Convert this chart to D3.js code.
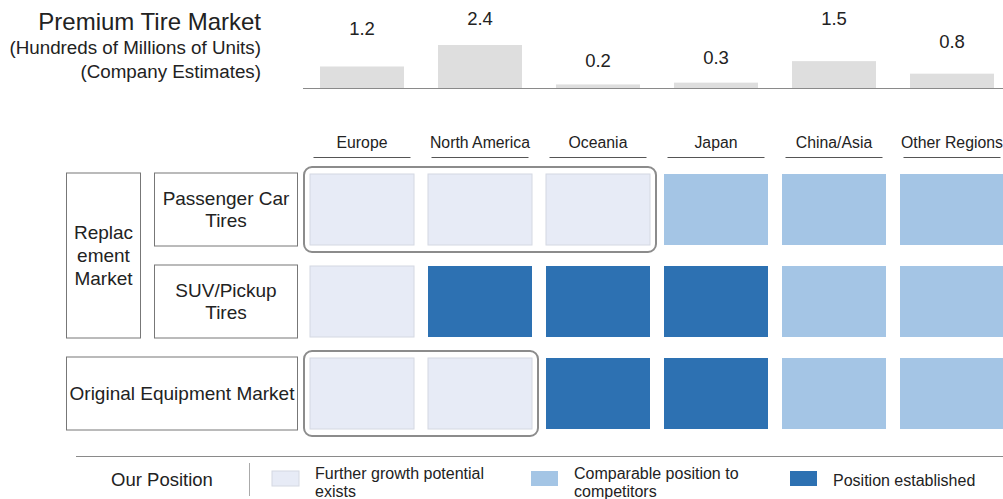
<!DOCTYPE html>
<html><head><meta charset="utf-8">
<script src="https://cdn.jsdelivr.net/npm/d3@7"></script>
<style>
html,body{margin:0;padding:0;background:#fff;}
svg{display:block;font-family:"Liberation Sans",Arial,Helvetica,sans-serif;}
</style></head>
<body>
<svg id="chart" width="1003" height="499"></svg>
<script>
// ---- data ----
const regions = ["Europe","North America","Oceania","Japan","China/Asia","Other Regions"];
const marketSize = [1.2, 2.4, 0.2, 0.3, 1.5, 0.8];
const rows = ["Passenger Car Tires","SUV/Pickup Tires","Original Equipment Market"];
const rowLabels = [["Passenger Car","Tires"],["SUV/Pickup","Tires"],["Original Equipment Market"]];
const groupLabel = ["Replac","ement","Market"];
// position level: 0 = further growth potential, 1 = comparable, 2 = established
const passengerLevels = [0,0,0,1,1,1];
const suvLevels       = [0,2,2,2,1,1];
const oeLevels        = [0,0,2,2,1,1];
const levelNames = ["Further growth potential exists","Comparable position to competitors","Position established"];
const legendLines = [["Further growth potential","exists"],["Comparable position to","competitors"],["Position established"]];
const highlights = [
  {row:"Passenger Car Tires", from:"Europe", to:"Oceania"},
  {row:"Original Equipment Market", from:"Europe", to:"North America"}
];
const titleLines = ["Premium Tire Market","(Hundreds of Millions of Units)","(Company Estimates)"];

// ---- drawing ----
const svg = d3.select("#chart");
const colors = ["#e7ebf6","#a4c5e5","#2d71b2"];
const txt = "#222";

const x = d3.scaleBand().domain(regions).range([303, 1011]).paddingInner(14/118).paddingOuter(7/118);
const y = d3.scaleBand().domain(rows).range([163.5, 439.5]).paddingInner(21/92).paddingOuter(10.5/92);
const bw = x.bandwidth(), bh = y.bandwidth();

// Title
const tSizes = [24, 18.8, 18.8];
const tY = [30, 54, 78];
svg.append("g").selectAll("text").data(titleLines).join("text")
  .attr("x", 261).attr("y", (d,i)=>tY[i]).attr("text-anchor","end")
  .attr("font-size",(d,i)=>tSizes[i]).attr("fill",txt).text(d=>d);

// Market size bars
const yb = d3.scaleLinear().domain([0, 2.4]).range([88, 45]);
const yl = d3.scaleLinear().domain([0.2, 1.5]).range([67, 25]).clamp(true);
const barW = 84;
svg.append("g").selectAll("rect").data(regions).join("rect")
  .attr("x", d=>x(d)+bw/2-barW/2).attr("width", barW)
  .attr("y", (d,i)=>yb(marketSize[i])).attr("height",(d,i)=>yb(0)-yb(marketSize[i]))
  .attr("fill","#dedede");
svg.append("g").selectAll("text").data(regions).join("text")
  .attr("x", d=>x(d)+bw/2).attr("y",(d,i)=>yl(marketSize[i]))
  .attr("text-anchor","middle").attr("font-size",18.5).attr("fill",txt)
  .text((d,i)=>d3.format(".1f")(marketSize[i]));
svg.append("line").attr("x1",303).attr("x2",1003).attr("y1",88.5).attr("y2",88.5)
  .attr("stroke","#8a8a8a").attr("stroke-width",1.2);

// Column headers
const hdr = svg.append("g");
hdr.selectAll("text").data(regions).join("text")
  .attr("x", d=>x(d)+bw/2).attr("y",147.5).attr("text-anchor","middle")
  .attr("font-size",15.8).attr("fill",txt).text(d=>d);
hdr.selectAll("line").data(regions).join("line")
  .attr("x1", d=>x(d)+bw/2-48.5).attr("x2", d=>x(d)+bw/2+48.5)
  .attr("y1",157.5).attr("y2",157.5).attr("stroke","#555").attr("stroke-width",1);

// Cells
const levels = [passengerLevels, suvLevels, oeLevels];
const cellData = [];
rows.forEach((r,ri)=>regions.forEach((c,ci)=>cellData.push({r, c, lv: levels[ri][ci]})));
svg.append("g").selectAll("rect").data(cellData).join("rect")
  .attr("x", d=>x(d.c)).attr("y", d=>y(d.r)).attr("width", bw).attr("height", bh)
  .attr("fill", d=>colors[d.lv])
  .attr("stroke", d=>d.lv===0 ? "#d4d8e2" : "none").attr("stroke-width",1);

// Highlight rounded boxes
svg.append("g").selectAll("rect").data(highlights).join("rect")
  .attr("x", d=>x(d.from)-6).attr("y", d=>y(d.row)-7)
  .attr("width", d=>x(d.to)+bw-x(d.from)+12).attr("height", bh+14)
  .attr("rx",8).attr("fill","none").attr("stroke","#8c8c8c").attr("stroke-width",2);

// Row label boxes
const lbl = svg.append("g");
const boxStroke = "#777";
const lf = 19;
lbl.append("rect").attr("x",66.5).attr("y", y(rows[0])-1).attr("width",74)
  .attr("height", y(rows[1])+bh - y(rows[0]) + 2).attr("fill","none").attr("stroke",boxStroke);
lbl.append("g").selectAll("text").data(groupLabel).join("text")
  .attr("x",103.5).attr("y",(d,i)=>(y(rows[0])+y(rows[1])+bh)/2 + (i-1)*23 + 6.5)
  .attr("text-anchor","middle").attr("font-size",lf).attr("fill",txt).text(d=>d);
[0,1].forEach(ri=>{
  lbl.append("rect").attr("x",154.5).attr("y",y(rows[ri])-1).attr("width",143).attr("height",bh+2)
    .attr("fill","none").attr("stroke",boxStroke);
  lbl.append("g").selectAll("text").data(rowLabels[ri]).join("text")
    .attr("x",226).attr("y",(d,i)=>y(rows[ri])+bh/2+(i-0.5)*22+6.5)
    .attr("text-anchor","middle").attr("font-size",lf).attr("fill",txt).text(d=>d);
});
lbl.append("rect").attr("x",66.5).attr("y",y(rows[2])-1).attr("width",231).attr("height",bh+2)
  .attr("fill","none").attr("stroke",boxStroke);
lbl.append("text").attr("x",182).attr("y",y(rows[2])+bh/2+6.5).attr("text-anchor","middle")
  .attr("font-size",lf).attr("fill",txt).text(rowLabels[2][0]);

// Legend
const lg = svg.append("g");
lg.append("line").attr("x1",76).attr("x2",1003).attr("y1",456.5).attr("y2",456.5)
  .attr("stroke","#8a8a8a").attr("stroke-width",1.2);
lg.append("text").attr("x",162).attr("y",486).attr("text-anchor","middle")
  .attr("font-size",18.5).attr("fill",txt).text("Our Position");
lg.append("line").attr("x1",249.5).attr("x2",249.5).attr("y1",463).attr("y2",496)
  .attr("stroke","#aaa").attr("stroke-width",1);
const lgX = [272, 531, 790];
const items = lg.selectAll("g.item").data(levelNames).join("g").attr("class","item")
  .attr("transform",(d,i)=>`translate(${lgX[i]},0)`);
items.append("rect").attr("x",0).attr("y",471).attr("width",27).attr("height",15)
  .attr("fill",(d,i)=>colors[i]).attr("stroke",(d,i)=>i===0?"#d4d8e2":"none");
items.each(function(d,i){
  const ls = legendLines[i];
  d3.select(this).selectAll("text").data(ls).join("text")
    .attr("x",43).attr("y",(t,j)=> ls.length===1 ? 485.5 : 478.5 + j*18)
    .attr("font-size",16).attr("fill",txt).text(t=>t);
});
</script>
</body></html>
